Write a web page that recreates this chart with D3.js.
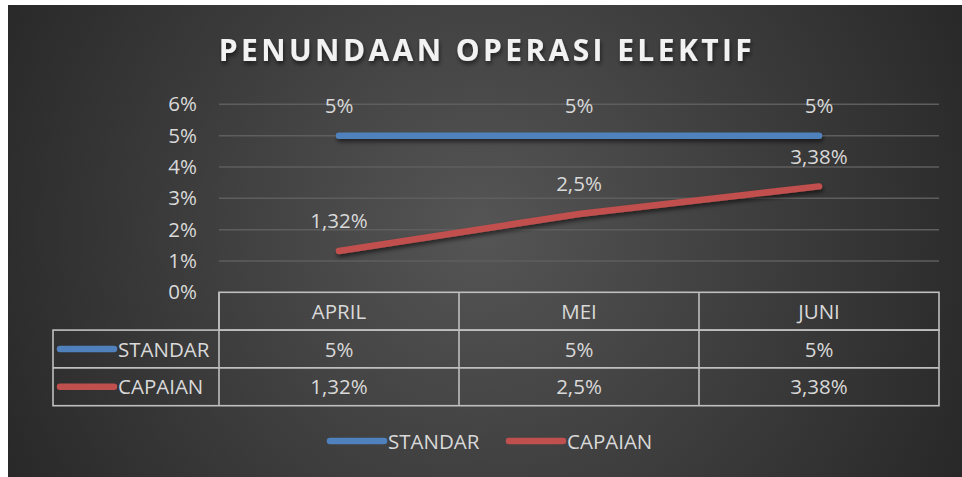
<!DOCTYPE html>
<html>
<head>
<meta charset="utf-8">
<script src="https://cdn.jsdelivr.net/npm/d3@7"></script>
<style>
  body { margin: 0; background: #fff; }
  svg { display: block; }
  text { font-family: "Open Sans", sans-serif; }
</style>
</head>
<body>
<svg id="chart" width="962" height="477"></svg>
<script>
// data
var months = ['APRIL', 'MEI', 'JUNI'];
var seriesNames = ['STANDAR', 'CAPAIAN'];
var standar = [5, 5, 5];
var capaian = [1.32, 2.5, 3.38];
var yTicks = [0, 1, 2, 3, 4, 5, 6];
var seriesColors = ['#4f81bd', '#c0504d'];

var W = 962, H = 477;
var fs = 20.5;
var svg = d3.select('#chart');

// comma decimal like the original
var fmt = d3.formatLocale({decimal: ',', thousands: '.', grouping: [3], currency: ['', '']});
function pct(v){
	return fmt.format('~f')(v) + '%';
}

var defs = svg.append('defs');
var grad = defs.append('radialGradient')
	.attr('id', 'bg')
	.attr('gradientUnits', 'userSpaceOnUse')
	.attr('cx', 480).attr('cy', 230).attr('r', 560);
grad.append('stop').attr('offset', '0%').attr('stop-color', '#555555');
grad.append('stop').attr('offset', '100%').attr('stop-color', '#262626');

// userSpace filter so the flat line does not vanish
var shadow = defs.append('filter').attr('id', 'shadow')
	.attr('filterUnits', 'userSpaceOnUse')
	.attr('x', 0).attr('y', 0).attr('width', W).attr('height', H);
shadow.append('feDropShadow')
	.attr('dx', 1).attr('dy', 3).attr('stdDeviation', 2)
	.attr('flood-color', '#000').attr('flood-opacity', 0.55);

svg.append('rect')
	.attr('x', 8).attr('y', 5)
	.attr('width', W - 8).attr('height', H - 5)
	.attr('fill', 'url(#bg)');

// title
svg.append('text')
	.attr('x', 487).attr('y', 61)
	.attr('text-anchor', 'middle')
	.attr('fill', '#f2f2f2')
	.attr('font-size', 30)
	.attr('font-weight', 'bold')
	.attr('letter-spacing', 3.4)
	.attr('filter', 'url(#shadow)')
	.text('PENUNDAAN OPERASI ELEKTIF');

var left = 219, right = 939;
var x = d3.scaleBand().domain(months).range([left, right]);
var y = d3.scaleLinear().domain([0, 6]).range([292.3, 104.3]);

// gridlines
svg.append('g').selectAll('line')
	.data(yTicks.slice(1))
	.enter()
	.append('line')
	.attr('x1', left).attr('x2', right)
	.attr('y1', function(d){ return y(d); })
	.attr('y2', function(d){ return y(d); })
	.attr('stroke', '#5e5e5e')
	.attr('stroke-width', 1.5);

// y axis labels
var yAxis = svg.append('g')
	.attr('transform', 'translate(' + (left - 6) + ',0)')
	.call(d3.axisLeft(y).tickValues(yTicks).tickFormat(function(d){ return d + '%'; }).tickSize(0).tickPadding(16));
yAxis.select('.domain').remove();
yAxis.selectAll('text')
	.attr('fill', '#d9d9d9')
	.attr('font-size', fs)
	.attr('font-family', '"Open Sans", sans-serif');

// lines
var line = d3.line()
	.x(function(d, i){ return x(months[i]) + x.bandwidth() / 2; })
	.y(function(d){ return y(d); });

var allSeries = [standar, capaian];

svg.append('g').selectAll('path')
	.data(allSeries)
	.enter()
	.append('path')
	.attr('d', line)
	.attr('fill', 'none')
	.attr('stroke', function(d, i){ return seriesColors[i]; })
	.attr('stroke-width', 6.5)
	.attr('stroke-linecap', 'round')
	.attr('filter', 'url(#shadow)');

// data labels
allSeries.forEach(function(s){
	svg.append('g').selectAll('text')
		.data(s)
		.enter()
		.append('text')
		.attr('x', function(d, i){ return x(months[i]) + x.bandwidth() / 2; })
		.attr('y', function(d){ return y(d) - 22.5; })
		.attr('text-anchor', 'middle')
		.attr('fill', '#d9d9d9')
		.attr('font-size', fs)
		.text(function(d){ return pct(d); });
});

// data table
var rowTop = 292.3, rowH = 37.8, keyLeft = 53;
var tbl = svg.append('g').attr('stroke', '#bfbfbf').attr('stroke-width', 1.6).attr('fill', 'none');
// header row box
tbl.append('rect').attr('x', left).attr('y', rowTop).attr('width', right - left).attr('height', rowH);
// series rows
tbl.append('rect').attr('x', keyLeft).attr('y', rowTop + rowH).attr('width', right - keyLeft).attr('height', rowH * 2);
tbl.append('line').attr('x1', keyLeft).attr('x2', right)
	.attr('y1', rowTop + rowH * 2).attr('y2', rowTop + rowH * 2);
months.forEach(function(m, i){
	if(i > 0){
		tbl.append('line').attr('x1', x(m)).attr('x2', x(m))
			.attr('y1', rowTop).attr('y2', rowTop + rowH * 3);
	}
});
tbl.append('line').attr('x1', left).attr('x2', left)
	.attr('y1', rowTop).attr('y2', rowTop + rowH * 3);

// header text
svg.append('g').selectAll('text')
	.data(months)
	.enter()
	.append('text')
	.attr('x', function(d){ return x(d) + x.bandwidth() / 2; })
	.attr('y', rowTop + rowH / 2 + 7.5)
	.attr('text-anchor', 'middle')
	.attr('fill', '#d9d9d9')
	.attr('font-size', fs)
	.text(function(d){ return d; });

allSeries.forEach(function(s, r){
	var cy = rowTop + rowH * (r + 1) + rowH / 2;
	svg.append('g').selectAll('text')
		.data(s)
		.enter()
		.append('text')
		.attr('x', function(d, i){ return x(months[i]) + x.bandwidth() / 2; })
		.attr('y', cy + 7.5)
		.attr('text-anchor', 'middle')
		.attr('fill', '#d9d9d9')
		.attr('font-size', fs)
		.text(function(d){ return pct(d); });
	svg.append('line')
		.attr('x1', 60).attr('x2', 114)
		.attr('y1', cy).attr('y2', cy)
		.attr('stroke', seriesColors[r])
		.attr('stroke-width', 6.5)
		.attr('stroke-linecap', 'round');
	svg.append('text')
		.attr('x', 118).attr('y', cy + 7.5)
		.attr('fill', '#d9d9d9')
		.attr('font-size', fs)
		.text(seriesNames[r]);
});

// legend
var legendX = [330, 509];
seriesNames.forEach(function(name, i){
	var g = svg.append('g').attr('transform', 'translate(' + legendX[i] + ',441)');
	g.append('line')
		.attr('x1', 0).attr('x2', 54)
		.attr('stroke', seriesColors[i])
		.attr('stroke-width', 6.5)
		.attr('stroke-linecap', 'round');
	g.append('text')
		.attr('x', 58).attr('y', 7.5)
		.attr('fill', '#d9d9d9')
		.attr('font-size', fs)
		.text(name);
});
</script>
</body>
</html>
